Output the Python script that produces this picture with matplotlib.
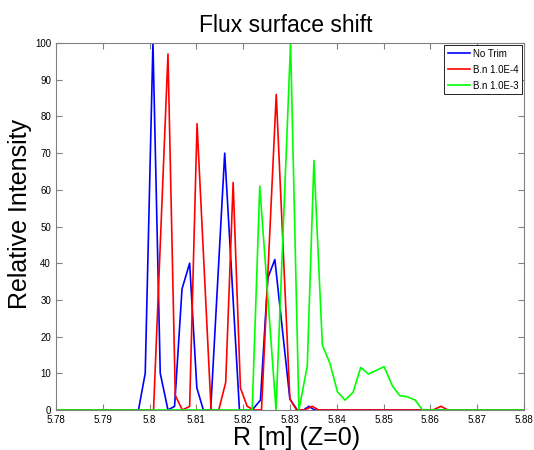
import matplotlib
matplotlib.use('Agg')
import matplotlib.pyplot as plt
from matplotlib import ticker

plt.rcParams['font.family'] = ['Liberation Sans', 'DejaVu Sans']

# valores (R en m, intensidad relativa)
r_notrim = [5.78, 5.79764, 5.79908, 5.80073, 5.80229, 5.80394, 5.80535, 5.80694,
            5.80857, 5.81011, 5.81150, 5.81306, 5.81606, 5.81921, 5.82193, 5.82370,
            5.82527, 5.82677, 5.82998, 5.83156, 5.83291, 5.83405, 5.83527, 5.88]
i_notrim = [0, 0, 10, 100, 10, 0, 1, 33,
            40, 6, 0, 0, 70, 0, 0, 2.7,
            36, 41, 3, 0, 0, 1, 0, 0]

r_bn4 = [5.78, 5.80086, 5.80394, 5.80550, 5.80700, 5.80857, 5.81015, 5.81315,
         5.81478, 5.81627, 5.81786, 5.81942, 5.82086, 5.82227, 5.82392, 5.82707,
         5.82998, 5.83141, 5.83312, 5.83478, 5.83612, 5.86054, 5.86225, 5.86375, 5.88]
i_bn4 = [0, 0, 97, 4, 0, 1, 78, 0,
         0, 7.5, 62, 6, 1, 0, 0, 86,
         3, 0, 0, 1, 0, 0, 1, 0, 0]

r_bn3 = [5.78, 5.82193, 5.82355, 5.82702, 5.83013, 5.83191, 5.83370, 5.83512,
         5.83692, 5.83854, 5.84013, 5.84176, 5.84347, 5.84512, 5.84677, 5.84844,
         5.85011, 5.85191, 5.85347, 5.85512, 5.85675, 5.85833, 5.88]
i_bn3 = [0, 0, 61, 0, 100, 0, 12, 68,
         17.7, 12.7, 5, 2.7, 4.8, 11.6, 9.8, 10.8,
         11.8, 6.5, 3.9, 3.6, 2.7, 0, 0]

etiquetas = ['No Trim', 'B.n 1.0E-4', 'B.n 1.0E-3']

fig = plt.figure(figsize=(5.34, 4.5), dpi=100)
ax = fig.add_axes([0.1047, 0.0889, 0.8766, 0.8155])

ax.plot(r_notrim, i_notrim, color='#0000ff', lw=1.2, label=etiquetas[0])
ax.plot(r_bn4, i_bn4, color='#ff0000', lw=1.2, label=etiquetas[1])
ax.plot(r_bn3, i_bn3, color='#00ff00', lw=1.2, label=etiquetas[2])

ax.set_xlim(5.78, 5.88)
ax.set_ylim(0, 100)
ax.xaxis.set_major_locator(ticker.MultipleLocator(0.01))
ax.yaxis.set_major_locator(ticker.MultipleLocator(10))
ax.xaxis.set_major_formatter(ticker.FuncFormatter(lambda v, p: '%g' % round(v, 2)))

ax.tick_params(direction='in', top=True, right=True, length=4, width=0.8,
               labelsize=7, color='#808080')
for s in ax.spines.values():
    s.set_color('#808080')
    s.set_linewidth(0.8)

ax.set_title('Flux surface shift', fontsize=16.5, pad=8, x=0.49)
ax.set_xlabel('R [m] (Z=0)', fontsize=18)
ax.set_ylabel('Relative Intensity', fontsize=18)
ax.xaxis.set_label_coords(0.514, -0.043)
ax.yaxis.set_label_coords(-0.052, 0.535)

leg = ax.legend(loc='upper right', fontsize=7, fancybox=False, framealpha=1,
                edgecolor='black', handlelength=2.2, handletextpad=0.3,
                borderaxespad=0.2, borderpad=0.4, labelspacing=0.6)
leg.get_frame().set_linewidth(0.6)

fig.savefig('out.png', dpi=100)
